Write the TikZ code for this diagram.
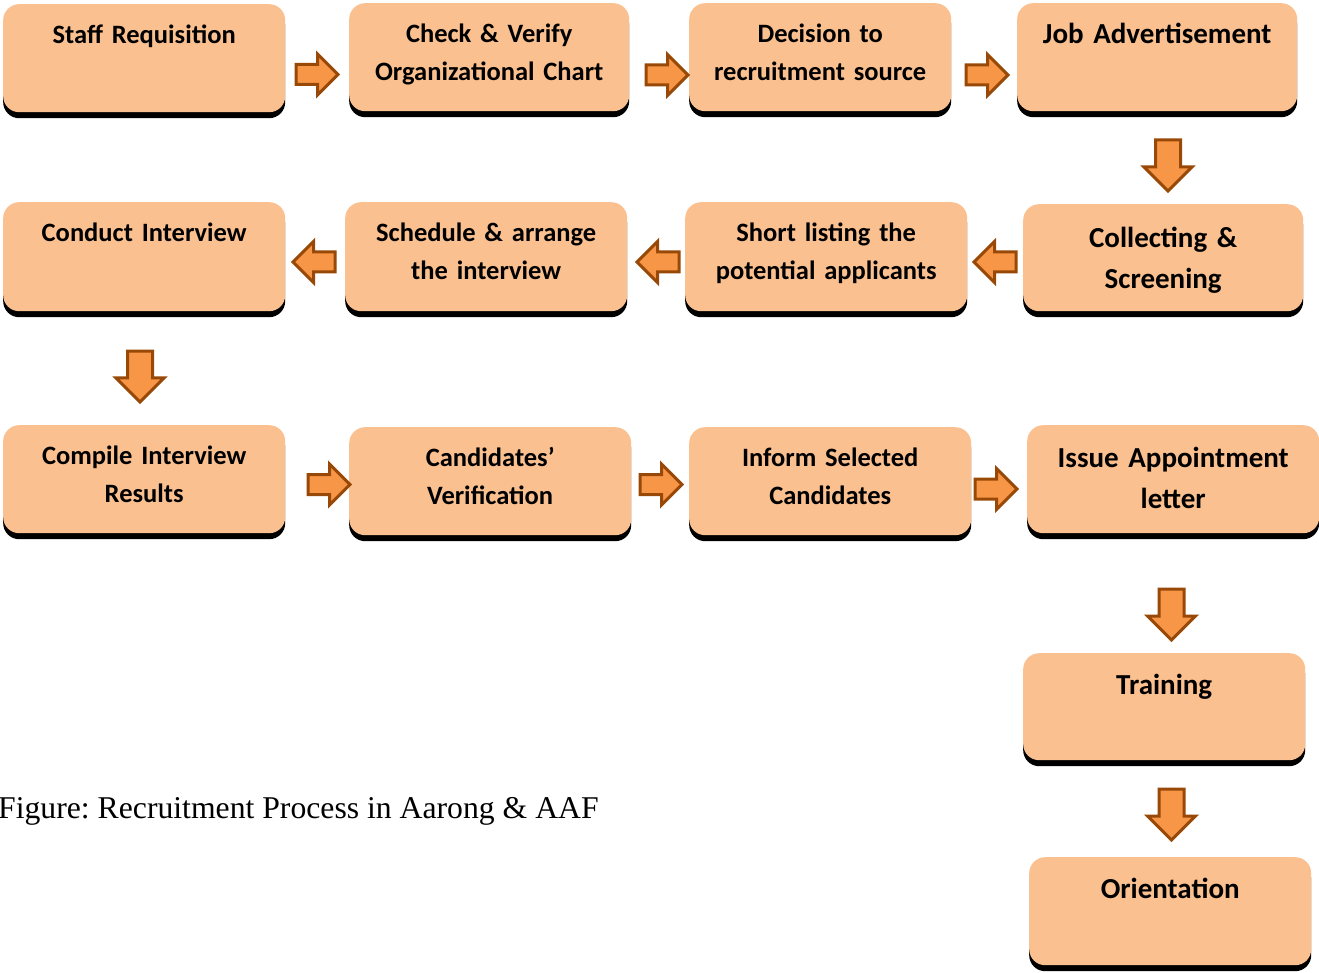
\documentclass[tikz,border=0pt]{standalone}
\usepackage{fontspec}
\setmainfont{Carlito}
\newfontfamily\capfont{Liberation Serif}
\usetikzlibrary{shapes.arrows,shadows}
\definecolor{boxfill}{HTML}{FAC090}
\definecolor{arrfill}{HTML}{F79646}
\definecolor{arrdraw}{HTML}{984807}
\frenchspacing
\tikzset{
  procbox/.style={rectangle, rounded corners=16pt, fill=boxfill, inner sep=0pt,
    anchor=north west, align=center, text width=282pt,
    text height=39pt, text depth=69pt,
    font=\fontsize{26.5}{38}\selectfont\bfseries,
    drop shadow={shadow xshift=0pt, shadow yshift=-6pt, fill=black, opacity=1}},
  bigtext/.style={font=\fontsize{29}{41}\selectfont\bfseries, text height=42pt, text depth=66pt},
  harrow/.style={single arrow, draw=arrdraw, fill=arrfill, line width=3pt, inner sep=0pt,
    single arrow head extend=10.5pt, single arrow tip angle=90,
    text height=17pt, text depth=0pt, minimum height=42pt, anchor=tail},
  varrow/.style={single arrow, draw=arrdraw, fill=arrfill, line width=3pt, inner sep=0pt,
    single arrow head extend=11.5pt, single arrow tip angle=90,
    text height=22pt, text depth=0pt, minimum height=51pt, rotate=-90, anchor=tail},
}
\begin{document}
\begin{tikzpicture}[x=1pt,y=-1pt]
\useasboundingbox (0,0) rectangle (1319,973);
% row 1
\node[procbox] (s1) at (3,4) {Staff Requisition};
\node[procbox, text width=280pt] (s2) at (349,3) {Check \& Verify\\Organizational Chart};
\node[procbox, text width=262pt] (s3) at (689,3) {Decision to\\recruitment source};
\node[procbox, bigtext, text width=280pt, text height=40pt, text depth=68pt] (s4) at (1017,3) {Job Advertisement};
% row 2
\node[procbox, text depth=70pt] (s5) at (3,202) {Conduct Interview};
\node[procbox, text depth=70pt] (s6) at (345,202) {Schedule \& arrange\\the interview};
\node[procbox, text depth=70pt] (s7) at (685,202) {Short listing the\\potential applicants};
\node[procbox, bigtext, text width=280pt, text height=43pt, text depth=64pt] (s8) at (1023,204) {Collecting \&\\Screening};
% row 3
\node[procbox] (s9) at (3,425) {Compile Interview\\Results};
\node[procbox] (s10) at (349,427) {Candidates’\\Verification};
\node[procbox] (s11) at (689,427) {Inform Selected\\Candidates};
\node[procbox, bigtext, text width=292pt] (s12) at (1027,425) {Issue Appointment\\letter};
% column
\node[procbox, bigtext, text height=41pt, text depth=66pt] (s13) at (1023,653) {Training};
\node[procbox, bigtext, text height=41pt, text depth=67pt] (s14) at (1029,857) {Orientation};
% arrows
\node[harrow] (a1) at (294.5,74.5) {};
\node[harrow] (a2) at (644.5,75) {};
\node[harrow] (a3) at (964.5,75) {};
\node[varrow] (a4) at (1168,138.5) {};
\node[harrow, rotate=180] (a5) at (1017.5,262) {};
\node[harrow, rotate=180] (a6) at (680.5,262) {};
\node[harrow, rotate=180] (a7) at (336.5,262) {};
\node[varrow] (a8) at (140,349.5) {};
\node[harrow] (a9) at (306.5,484.5) {};
\node[harrow] (a10) at (638.5,484.5) {};
\node[harrow] (a11) at (973.5,489) {};
\node[varrow] (a12) at (1171.5,587.5) {};
\node[varrow] (a13) at (1171.5,787.5) {};
% caption
\node[anchor=base west, inner sep=0pt, font=\capfont\fontsize{31.7}{32}\selectfont] (cap) at (-2,818) {Figure: Recruitment Process in Aarong \& AAF};
\end{tikzpicture}
\end{document}
